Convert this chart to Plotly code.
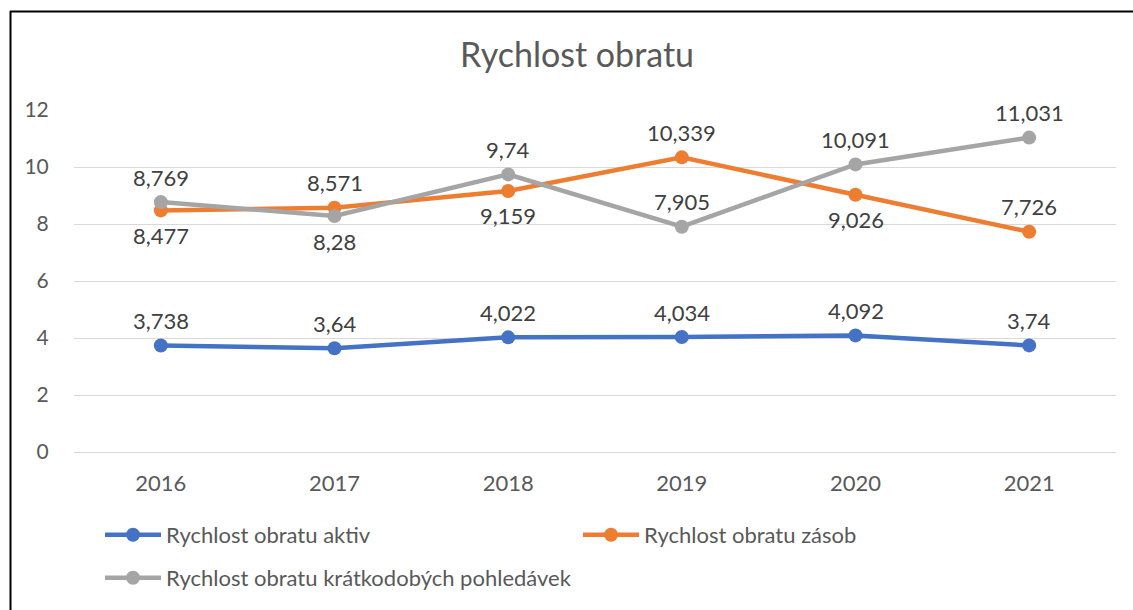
import plotly.graph_objects as go

years = ["2016", "2017", "2018", "2019", "2020", "2021"]
aktiv = [3.738, 3.64, 4.022, 4.034, 4.092, 3.74]
zasob = [8.477, 8.571, 9.159, 10.339, 9.026, 7.726]
pohledavek = [8.769, 8.28, 9.74, 7.905, 10.091, 11.031]

names = ["Rychlost obratu aktiv", "Rychlost obratu zásob",
         "Rychlost obratu krátkodobých pohledávek"]
colors = ["#4472C4", "#ED7D31", "#A5A5A5"]
series = [aktiv, zasob, pohledavek]
# label placement: +1 above, -1 below
placement = [
    [1, 1, 1, 1, 1, 1],
    [-1, 1, -1, 1, -1, 1],
    [1, -1, 1, 1, 1, 1],
]

FONT = "Lato, 'Open Sans', sans-serif"
TXT = "#595959"

fig = go.Figure()
legends = ["legend", "legend2", "legend3"]
for name, col, vals, lg in zip(names, colors, series, legends):
    fig.add_trace(go.Scatter(
        x=years, y=vals, name=name, mode="lines+markers",
        line=dict(color=col, width=4.5),
        marker=dict(color=col, size=14),
        legend=lg,
    ))

annotations = []
for vals, pl in zip(series, placement):
    for i, (yv, p) in enumerate(zip(vals, pl)):
        annotations.append(dict(
            x=i, y=yv, xref="x", yref="y",
            text=f"{yv:g}".replace(".", ","),
            showarrow=False, yshift=25 * p,
            font=dict(family=FONT, size=22, color="#404040"),
        ))

leg_common = dict(orientation="h", xref="container", yref="container",
                  xanchor="left", yanchor="middle", itemwidth=56,
                  font=dict(size=22, color=TXT), bgcolor="rgba(0,0,0,0)")

fig.update_layout(
    width=1133, height=610,
    margin=dict(l=74, r=17, t=110, b=158),
    paper_bgcolor="white", plot_bgcolor="white",
    font=dict(family=FONT, color=TXT),
    title=dict(text="Rychlost obratu", x=577 / 1133, xanchor="center",
               xref="container", y=1 - 55 / 610, yref="container",
               yanchor="middle", font=dict(size=34, color=TXT)),
    xaxis=dict(type="category", range=[-0.5, 5.5], showgrid=False,
               showline=False, zeroline=False,
               ticks="outside", ticklen=12, tickcolor="rgba(0,0,0,0)",
               tickfont=dict(size=22, color=TXT)),
    yaxis=dict(range=[0, 12], dtick=2, showgrid=True, gridcolor="#D9D9D9",
               gridwidth=1.3, zeroline=True, zerolinecolor="#D9D9D9",
               zerolinewidth=1.3, showline=False,
               ticks="outside", ticklen=20, tickcolor="rgba(0,0,0,0)",
               tickfont=dict(size=21, color=TXT)),
    legend=dict(x=100 / 1133, y=1 - 535 / 610, **leg_common),
    legend2=dict(x=578 / 1133, y=1 - 535 / 610, **leg_common),
    legend3=dict(x=100 / 1133, y=1 - 578 / 610, **leg_common),
    annotations=annotations,
    showlegend=True,
)

# chart border (Excel-like frame, cropped at bottom/right)
W = 1042.0
H = 342.0
def px_x(p):
    return (p - 74) / W
def px_y(p):
    return (452 - p) / H
fig.add_shape(type="line", xref="paper", yref="paper",
              x0=px_x(10.5), x1=px_x(10.5), y0=px_y(11), y1=px_y(620),
              line=dict(color="black", width=2))
fig.add_shape(type="line", xref="paper", yref="paper",
              x0=px_x(10), x1=px_x(1140), y0=px_y(11.5), y1=px_y(11.5),
              line=dict(color="black", width=2))

fig.write_html("out.html")
